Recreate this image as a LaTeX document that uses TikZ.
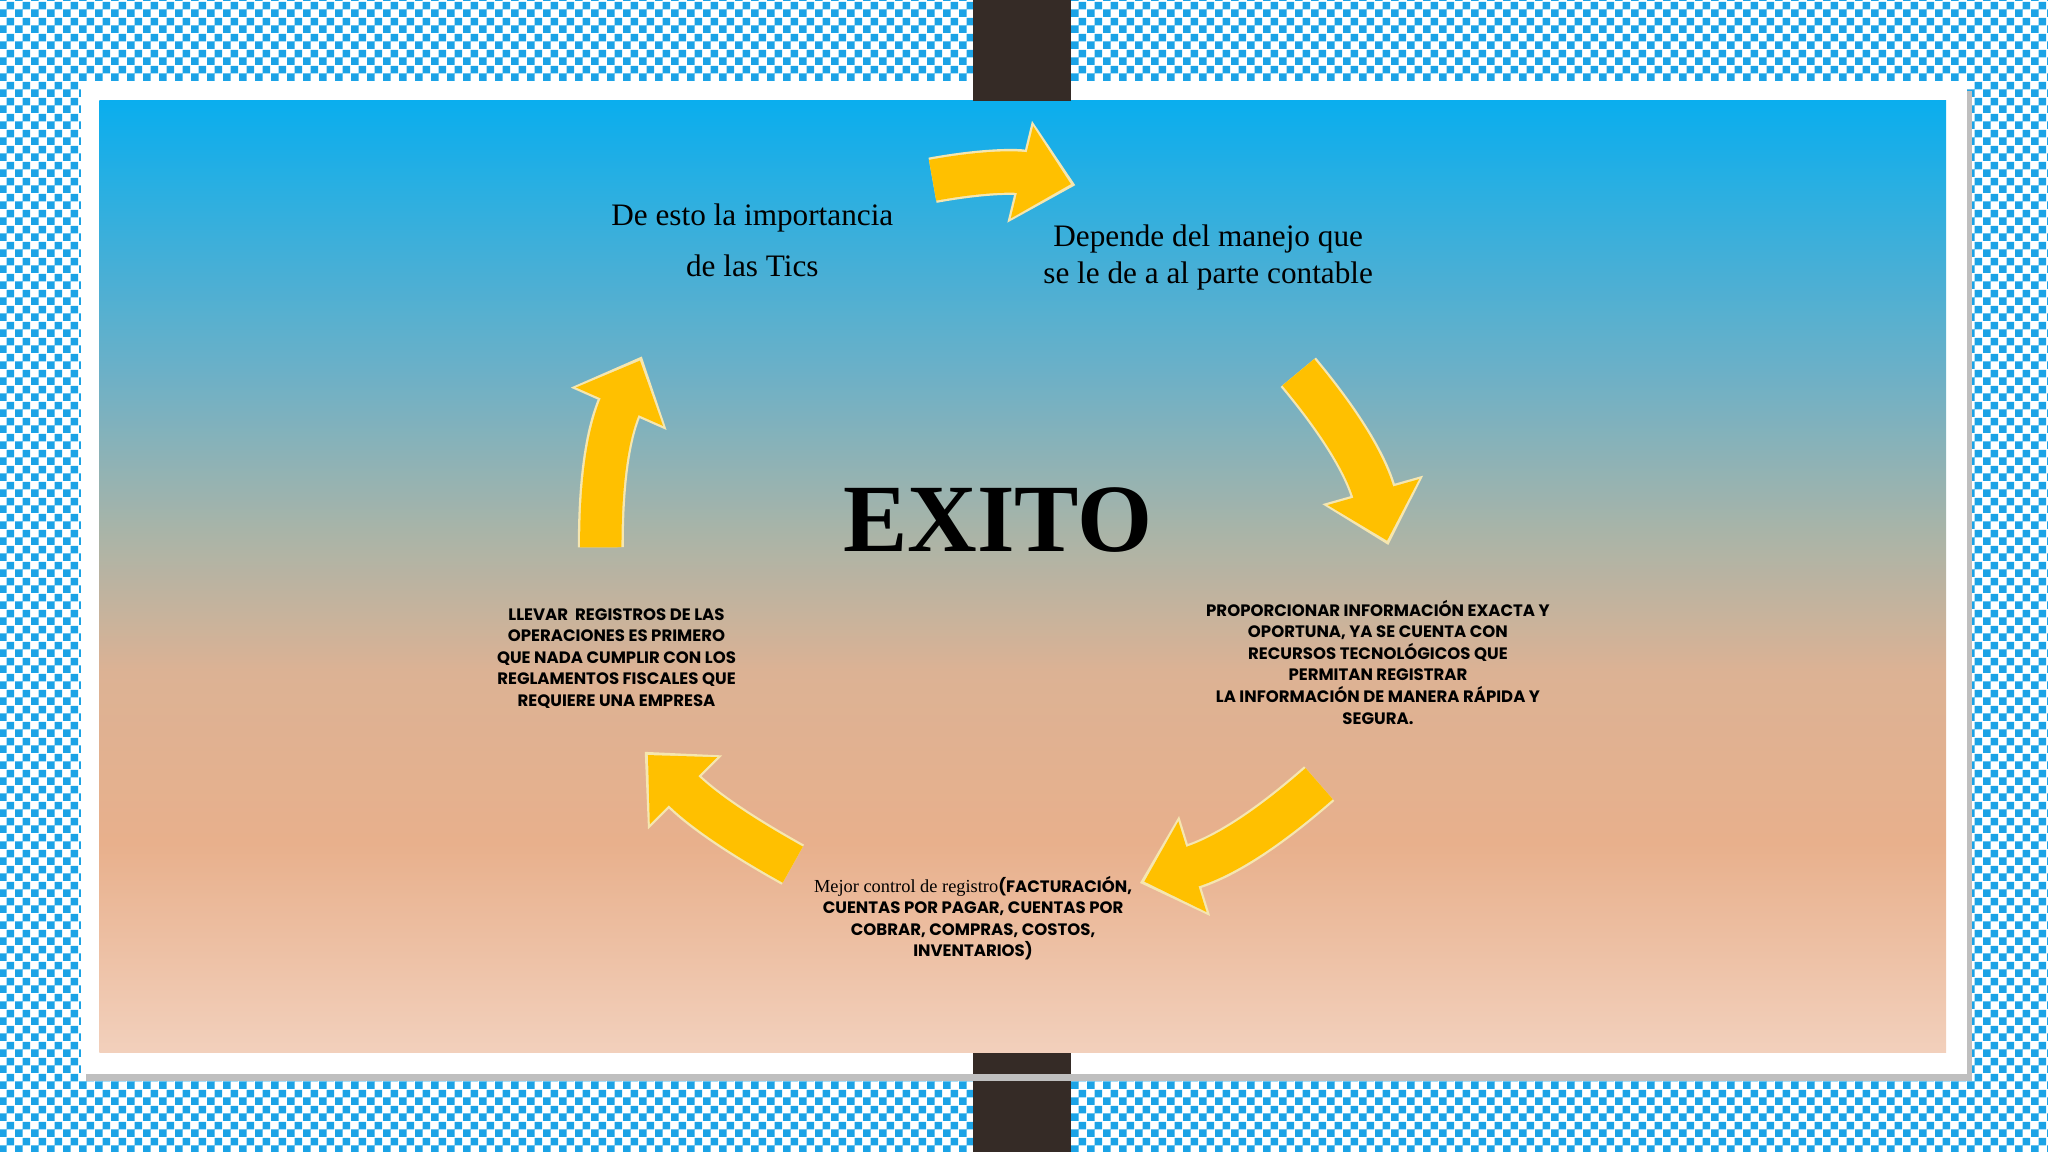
\documentclass[tikz,border=0pt]{standalone}
\usepackage{fontspec}
\setmainfont{Liberation Serif}
\newfontfamily\capsfont{Poppins}
\usetikzlibrary{arrows.meta,patterns}
\definecolor{chkblue}{HTML}{1BA3E6}
\definecolor{bar}{HTML}{352B26}
\definecolor{arr}{HTML}{FFC000}
\definecolor{arrline}{HTML}{F5E6B0}
\definecolor{ca}{HTML}{F2D0BC}\definecolor{cb}{HTML}{E8B08C}\definecolor{cc}{HTML}{DCB294}
\definecolor{cd}{HTML}{A8B4A8}\definecolor{ce}{HTML}{6AB0C8}\definecolor{cf}{HTML}{0AAEEE}
\pgfdeclareverticalshading{panel}{100bp}{color(0bp)=(ca); color(25bp)=(ca); color(36bp)=(cb); color(45bp)=(cc); color(52.5bp)=(cd); color(61bp)=(ce); color(75bp)=(cf); color(100bp)=(cf)}
\pgfdeclarepatternformonly{chk}{\pgfpointorigin}{\pgfpoint{3.5pt}{3.5pt}}{\pgfpoint{3.5pt}{3.5pt}}{\pgfpathrectangle{\pgfpointorigin}{\pgfpoint{1.75pt}{1.75pt}}\pgfpathrectangle{\pgfpoint{1.75pt}{1.75pt}}{\pgfpoint{1.75pt}{1.75pt}}\pgfusepath{fill}}
\tikzset{
 bigarrow/.style={line width=9pt, arr, -{Triangle[width=20pt,length=11pt]}},
 arrout/.style={line width=10pt, arrline, -{Triangle[width=22pt,length=12.5pt]}},
 serift/.style={font=\fontsize{6.8}{8}\selectfont, align=center, text=black},
 capst/.style={font=\capsfont\bfseries\fontsize{3.6}{4.7}\selectfont, align=center, text=black}
}
\begin{document}
\begin{tikzpicture}[x=0.01cm,y=-0.01cm]
\useasboundingbox (0,0) rectangle (1568,882);
\fill[white] (0,0) rectangle (1568,882);
\fill[pattern=chk, pattern color=chkblue] (0,0) rectangle (1568,882);
\fill[bar] (745,0) rectangle (820,882);
\fill[black!25] (66,70) rectangle (1510,828);
\fill[white] (62,62) rectangle (1506,822);
\shade[shading=panel] (76,77) rectangle (1490,806);
\fill[bar] (745,62) rectangle (820,77);
\fill[bar] (745,806) rectangle (820,822);
% texts
\node[serift] (t1) at (576,184) {De esto la importancia\\[3pt]de las Tics};
\node[serift] (t2) at (925,197) {Depende del manejo que\\se le de a al parte contable};
\node[font=\bfseries\fontsize{21}{24}\selectfont] (ex) at (764,398) {EXITO};
\node[capst] (t3) at (1055,507) {PROPORCIONAR INFORMACIÓN EXACTA Y\\OPORTUNA, YA SE CUENTA CON\\RECURSOS TECNOLÓGICOS QUE\\PERMITAN REGISTRAR\\LA INFORMACIÓN DE MANERA RÁPIDA Y\\SEGURA.};
\node[capst] (t4) at (472,504) {LLEVAR\ \ REGISTROS DE LAS\\OPERACIONES ES PRIMERO\\QUE NADA CUMPLIR CON LOS\\REGLAMENTOS FISCALES QUE\\REQUIERE UNA EMPRESA};
\node[capst] (t5) at (745,703) {{\rmfamily\mdseries\fontsize{4}{4.7}\selectfont Mejor control de registro}(FACTURACIÓN,\\CUENTAS POR PAGAR, CUENTAS POR\\COBRAR, COMPRAS, COSTOS,\\INVENTARIOS)};
% arrows
\coordinate (a1s) at (714,138); \coordinate (a1e) at (820,141);
\coordinate (a2s) at (994,285); \coordinate (a2e) at (1062,414);
\coordinate (a3s) at (1010,600); \coordinate (a3e) at (876,675);
\coordinate (a4s) at (607,662); \coordinate (a4e) at (496,578);
\coordinate (a5s) at (460,419); \coordinate (a5e) at (490,276);
\foreach \s/\e/\b in {a1s/a1e/12, a2s/a2e/12, a3s/a3e/12, a4s/a4e/8, a5s/a5e/12}{
  \draw[arrout,shorten >=-1pt] (\s) to[bend left=\b] (\e);
  \draw[bigarrow] (\s) to[bend left=\b] (\e);
}
\end{tikzpicture}
\end{document}
